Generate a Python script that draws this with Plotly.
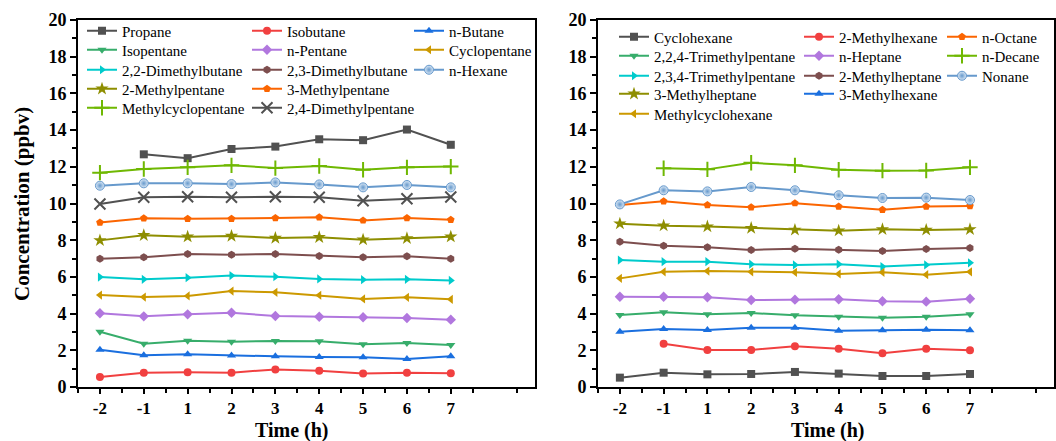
import plotly.graph_objects as go

W, H = 1056, 441

times = ["-2", "-1", "1", "2", "3", "4", "5", "6", "7"]

# ---- left panel series (ppbv) ----
propane = [None, 12.68, 12.47, 12.97, 13.10, 13.50, 13.45, 14.03, 13.20]
isobutane = [0.54, 0.78, 0.80, 0.78, 0.96, 0.89, 0.73, 0.78, 0.75]
n_butane = [2.03, 1.73, 1.78, 1.71, 1.67, 1.63, 1.62, 1.53, 1.67]
isopentane = [3.01, 2.36, 2.52, 2.47, 2.51, 2.49, 2.33, 2.40, 2.29]
n_pentane = [4.02, 3.85, 3.96, 4.05, 3.87, 3.83, 3.80, 3.76, 3.67]
cyclopentane = [5.01, 4.90, 4.96, 5.23, 5.16, 5.00, 4.80, 4.89, 4.78]
dmb22 = [5.99, 5.87, 5.96, 6.07, 6.01, 5.89, 5.85, 5.87, 5.81]
dmb23 = [6.99, 7.07, 7.25, 7.21, 7.25, 7.14, 7.07, 7.12, 6.99]
n_hexane = [10.97, 11.10, 11.10, 11.06, 11.15, 11.04, 10.88, 11.01, 10.88]
mp2 = [7.99, 8.27, 8.19, 8.23, 8.12, 8.16, 8.03, 8.10, 8.19]
mp3 = [8.97, 9.19, 9.17, 9.17, 9.21, 9.25, 9.08, 9.21, 9.12]
mcp = [11.68, 11.88, 11.97, 12.08, 11.93, 12.04, 11.84, 11.97, 12.01]
dmp24 = [9.97, 10.34, 10.37, 10.34, 10.37, 10.34, 10.15, 10.26, 10.35]

# ---- right panel series (ppbv) ----
cyclohexane = [0.51, 0.78, 0.69, 0.71, 0.82, 0.73, 0.60, 0.60, 0.71]
mhx2 = [None, 2.36, 2.02, 2.02, 2.22, 2.09, 1.84, 2.09, 2.00]
n_octane = [9.92, 10.12, 9.92, 9.79, 10.02, 9.84, 9.66, 9.84, 9.87]
tmp224 = [3.92, 4.07, 3.96, 4.03, 3.91, 3.83, 3.78, 3.83, 3.96]
n_heptane = [4.92, 4.92, 4.89, 4.74, 4.76, 4.78, 4.67, 4.65, 4.81]
n_decane = [None, 11.92, 11.86, 12.22, 12.08, 11.84, 11.79, 11.80, 11.97]
tmp234 = [6.92, 6.83, 6.83, 6.69, 6.65, 6.69, 6.56, 6.65, 6.77]
mhp2 = [7.92, 7.70, 7.61, 7.47, 7.54, 7.48, 7.41, 7.52, 7.57]
nonane = [9.95, 10.72, 10.66, 10.90, 10.72, 10.45, 10.30, 10.32, 10.19]
mhp3 = [8.90, 8.79, 8.74, 8.66, 8.56, 8.52, 8.59, 8.56, 8.59]
mhx3 = [3.01, 3.16, 3.11, 3.23, 3.23, 3.07, 3.09, 3.12, 3.09]
mch = [5.92, 6.28, 6.32, 6.28, 6.25, 6.16, 6.25, 6.12, 6.28]

GRAY, RED, BLUE, GREEN = "#515151", "#F14040", "#1A6FDF", "#37AD6B"
PURPLE, GOLD, CYAN, BROWN = "#B177DE", "#CC9900", "#00CBCC", "#7D4E4E"
OLIVE, ORANGE, LBLUE, LIME = "#8E8E00", "#FB6501", "#6699CC", "#6FB802"

# (name, values, color, symbol, legend column px, legend row px)
left_series = [
    ("Propane", propane, GRAY, "square", 83, 33),
    ("Isobutane", isobutane, RED, "circle", 248, 33),
    ("n-Butane", n_butane, BLUE, "triangle-up", 410, 33),
    ("Isopentane", isopentane, GREEN, "triangle-down", 83, 52),
    ("n-Pentane", n_pentane, PURPLE, "diamond", 248, 52),
    ("Cyclopentane", cyclopentane, GOLD, "triangle-left", 410, 52),
    ("2,2-Dimethylbutane", dmb22, CYAN, "triangle-right", 83, 72),
    ("2,3-Dimethylbutane", dmb23, BROWN, "hexagon", 248, 72),
    ("n-Hexane", n_hexane, LBLUE, "sphere", 410, 72),
    ("2-Methylpentane", mp2, OLIVE, "star", 83, 91),
    ("3-Methylpentane", mp3, ORANGE, "pentagon", 248, 91),
    ("Methylcyclopentane", mcp, LIME, "cross-thin", 83, 110),
    ("2,4-Dimethylpentane", dmp24, GRAY, "x-thin", 248, 110),
]
right_series = [
    ("Cyclohexane", cyclohexane, GRAY, "square", 615, 39),
    ("2-Methylhexane", mhx2, RED, "circle", 800, 39),
    ("n-Octane", n_octane, ORANGE, "pentagon", 943, 39),
    ("2,2,4-Trimethylpentane", tmp224, GREEN, "triangle-down", 615, 58),
    ("n-Heptane", n_heptane, PURPLE, "diamond", 800, 58),
    ("n-Decane", n_decane, LIME, "cross-thin", 943, 58),
    ("2,3,4-Trimethylpentane", tmp234, CYAN, "triangle-right", 615, 78),
    ("2-Methylheptane", mhp2, BROWN, "hexagon", 800, 78),
    ("Nonane", nonane, LBLUE, "sphere", 943, 78),
    ("3-Methylheptane", mhp3, OLIVE, "star", 615, 96),
    ("3-Methylhexane", mhx3, BLUE, "triangle-up", 800, 96),
    ("Methylcyclohexane", mch, GOLD, "triangle-left", 615, 116),
]

FONT = "Liberation Serif"
xpos = list(range(len(times)))

fig = go.Figure()
legends = {}
count = 0
for panel, series in (("", left_series), ("2", right_series)):
    for name, vals, color, sym, lx, ly in series:
        count += 1
        key = "legend" if count == 1 else f"legend{count}"
        marker = dict(color=color, size=8, symbol=sym, line=dict(width=0, color=color))
        if sym in ("cross-thin", "x-thin"):
            marker.update(size=11, line=dict(width=2, color=color))
        elif sym == "sphere":
            marker.update(symbol="circle", size=9, color="#dce9f6",
                          gradient=dict(type="radial", color=color),
                          line=dict(width=1, color=color))
        elif sym == "star":
            marker.update(size=10)
        fig.add_trace(go.Scatter(
            x=xpos, y=vals, name=name, mode="lines+markers",
            line=dict(color=color, width=2), marker=marker,
            xaxis="x" + panel, yaxis="y" + panel, legend=key,
            connectgaps=False, showlegend=True,
        ))
        legends[key] = dict(
            x=(lx - 1) / W, y=1 - (ly - 2) / H, xanchor="left", yanchor="middle",
            bgcolor="rgba(0,0,0,0)", borderwidth=0, visible=True,
            font=dict(family=FONT, size=15, color="#000"),
            tracegroupgap=0, itemclick=False, itemdoubleclick=False,
        )

ydom = [1 - 387 / H, 1 - 20 / H]
tickfont = dict(family=FONT, size=17, color="#000", weight="bold")


def xaxis(dom, anchor):
    return dict(
        domain=dom, anchor=anchor, range=[-0.5, 9.92], automargin=False,
        tickmode="array", tickvals=list(range(len(times))), ticktext=times,
        ticks="outside", ticklen=5, tickwidth=2, tickcolor="#000",
        minor=dict(tickmode="linear", tick0=0.5, dtick=1, ticks="outside",
                   ticklen=4, tickwidth=1.5, tickcolor="#000"),
        showline=True, linewidth=2, linecolor="#000", mirror=True,
        showgrid=False, zeroline=False, tickfont=tickfont,
    )


def yaxis(anchor):
    return dict(
        domain=ydom, anchor=anchor, range=[0, 20], automargin=False,
        tickmode="linear", tick0=0, dtick=2,
        ticks="outside", ticklen=6, tickwidth=2, tickcolor="#000",
        minor=dict(tickmode="linear", tick0=0, dtick=1, ticks="outside",
                   ticklen=4, tickwidth=1.5, tickcolor="#000"),
        showline=True, linewidth=2, linecolor="#000", mirror=True,
        showgrid=False, zeroline=False, tickfont=dict(tickfont, size=18),
    )


annotations = [
    dict(text="<b>Concentration (ppbv)</b>", x=22 / W, y=1 - 204 / H,
         xref="paper", yref="paper", showarrow=False, textangle=-90,
         xanchor="center", yanchor="middle",
         font=dict(family=FONT, size=21, color="#000")),
    dict(text="<b>Time (h)</b>", x=292 / W, y=1 - 430 / H,
         xref="paper", yref="paper", showarrow=False,
         xanchor="center", yanchor="middle",
         font=dict(family=FONT, size=20, color="#000")),
    dict(text="<b>Time (h)</b>", x=828 / W, y=1 - 430 / H,
         xref="paper", yref="paper", showarrow=False,
         xanchor="center", yanchor="middle",
         font=dict(family=FONT, size=20, color="#000")),
]

fig.update_layout(
    width=W, height=H,
    margin=dict(l=0, r=0, t=0, b=0, autoexpand=False),
    paper_bgcolor="white", plot_bgcolor="white",
    showlegend=True,
    xaxis=xaxis([78 / W, 535 / W], "y"),
    yaxis=yaxis("x"),
    xaxis2=xaxis([598 / W, 1054 / W], "y2"),
    yaxis2=yaxis("x2"),
    annotations=annotations,
    **legends,
)

fig.write_html("out.html")
